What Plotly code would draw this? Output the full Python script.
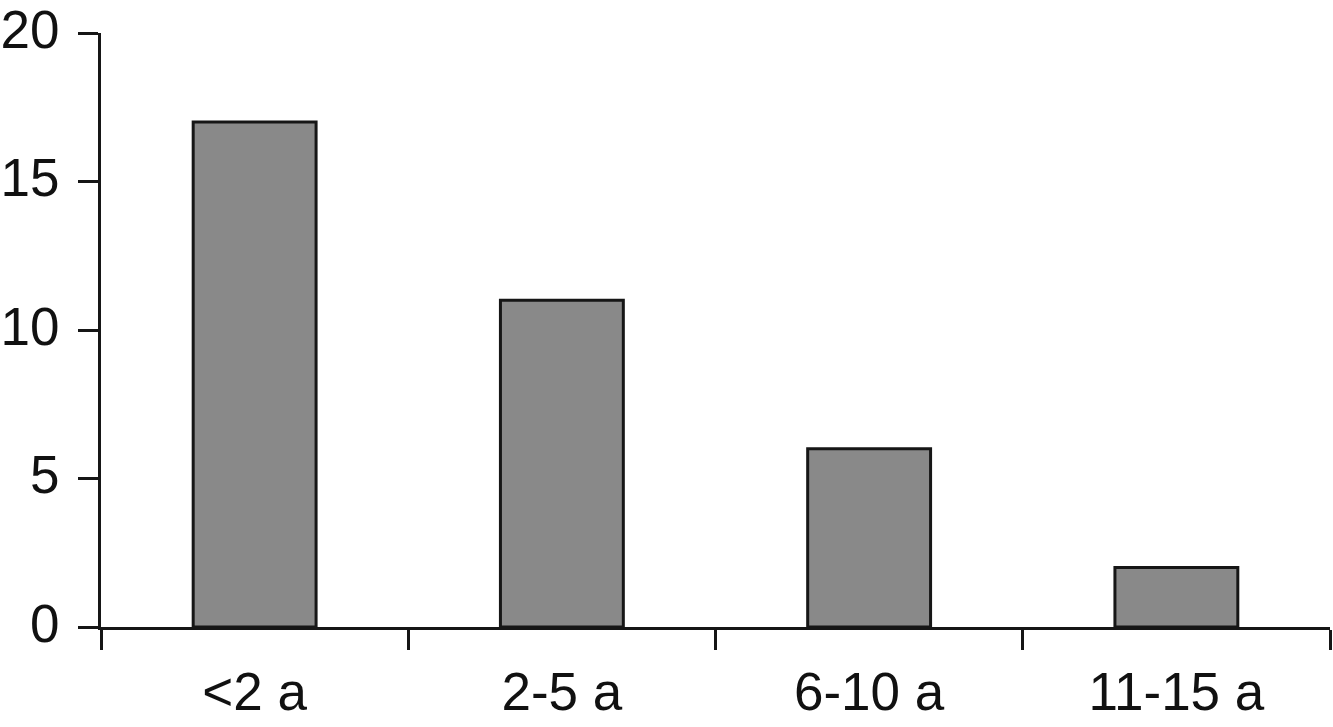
import plotly.graph_objects as go

# Data
categories = ['<2 a', '2-5 a', '6-10 a', '11-15 a']
counts = [17, 11, 6, 2]
y_ticks = [0, 5, 10, 15, 20]

fig = go.Figure()

fig.add_trace(go.Bar(
    x=categories,
    y=counts,
    marker=dict(color='#898989', line=dict(color='#161616', width=3)),
    width=0.4,
))

fig.update_layout(
    width=1333,
    height=727,
    margin=dict(l=101, r=3, t=33, b=100),
    paper_bgcolor='white',
    plot_bgcolor='white',
    showlegend=False,
    font=dict(family='Arial, Liberation Sans, sans-serif', size=53, color='#111111'),
)

fig.update_xaxes(
    type='category',
    range=[-0.5, 3.5],
    automargin=False,
    showline=True, linecolor='#161616', linewidth=3,
    ticks='outside', tickson='boundaries', ticklen=20, tickwidth=3, tickcolor='#161616',
    showgrid=False, zeroline=False,
    ticklabelstandoff=16,
)
fig.update_yaxes(
    range=[0, 20],
    tickvals=y_ticks,
    automargin=False,
    ticklabeloverflow='allow',
    showline=True, linecolor='#161616', linewidth=3,
    ticks='outside', ticklen=20, tickwidth=3, tickcolor='#161616',
    showgrid=False, zeroline=False,
    ticklabelstandoff=8,
    ticklabelshift=-4,
)

# drop the browser's default body margin so the figure sits at the page corner
fig.write_html("out.html", config={'displayModeBar': False},
               post_script="document.body.style.margin='0';")
